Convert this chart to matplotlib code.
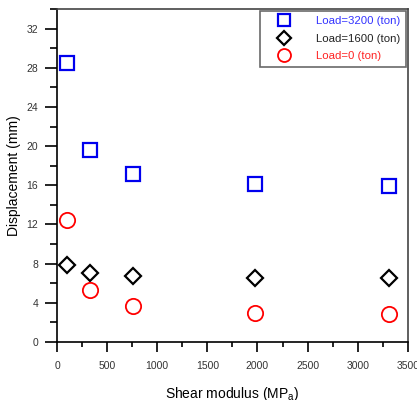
import matplotlib
matplotlib.use("Agg")
import matplotlib.pyplot as plt
from matplotlib.ticker import MultipleLocator

plt.rcParams['font.family'] = ['Liberation Sans', 'DejaVu Sans']
plt.rcParams['mathtext.fontset'] = 'custom'
plt.rcParams['mathtext.rm'] = 'Liberation Sans'

shear_modulus = [100, 330, 760, 1980, 3310]
load_3200 = [28.5, 19.6, 17.2, 16.1, 15.9]
load_1600 = [7.85, 7.05, 6.75, 6.5, 6.5]
load_0 = [12.5, 5.35, 3.65, 2.95, 2.85]
labels = ["Load=3200 (ton)", "Load=1600 (ton)", "Load=0 (ton)"]

fig = plt.figure(figsize=(4.17, 4.0), dpi=100)
ax = fig.add_axes([0.1367, 0.145, 0.978 - 0.1367, 0.9775 - 0.145])

ax.plot(shear_modulus, load_3200, ls='none', marker='s', ms=10.5, mfc='none',
        mec='#0000ee', mew=1.6, label=labels[0])
ax.plot(shear_modulus, load_1600, ls='none', marker='D', ms=8.5, mfc='none',
        mec='black', mew=1.6, label=labels[1])
ax.plot(shear_modulus, load_0, ls='none', marker='o', ms=11, mfc='none',
        mec='#ff0000', mew=1.3, label=labels[2])

ax.set_xlim(0, 3500)
ax.set_ylim(0, 34)
ax.xaxis.set_major_locator(MultipleLocator(500))
ax.xaxis.set_minor_locator(MultipleLocator(250))
ax.yaxis.set_major_locator(MultipleLocator(4))
ax.yaxis.set_minor_locator(MultipleLocator(2))

ax.tick_params(axis='both', which='major', direction='out', labelsize=7.5, width=1.2, colors='black')
ax.tick_params(axis='y', which='major', length=8.5, pad=5)
ax.tick_params(axis='y', which='minor', length=4.8, width=1.2)
ax.tick_params(axis='x', which='major', length=7.5, pad=6)
ax.tick_params(axis='x', which='minor', length=3.8, width=1.2)
for lab in ax.get_xticklabels() + ax.get_yticklabels():
    lab.set_color('#333333')

for s in ['left', 'bottom']:
    ax.spines[s].set_linewidth(1.2)
    ax.spines[s].set_color('black')
for s in ['top', 'right']:
    ax.spines[s].set_linewidth(1.2)
    ax.spines[s].set_color('#444444')

ax.set_xlabel('Shear modulus (MP$_\\mathregular{a}$)', fontsize=10, labelpad=10)
ax.set_ylabel('Displacement (mm)', fontsize=10, labelpad=4)

leg = ax.legend(loc='upper right', fontsize=8.2, frameon=True, fancybox=False,
                edgecolor='#444444', borderaxespad=0.15, handletextpad=1.2,
                labelspacing=0.65, markerscale=0.85, borderpad=0.5, handlelength=3.2)
leg.get_frame().set_linewidth(1.2)
for t, c in zip(leg.get_texts(), ['#3333ff', '#222222', '#ff2222']):
    t.set_color(c)

fig.savefig('out.png', dpi=100)
